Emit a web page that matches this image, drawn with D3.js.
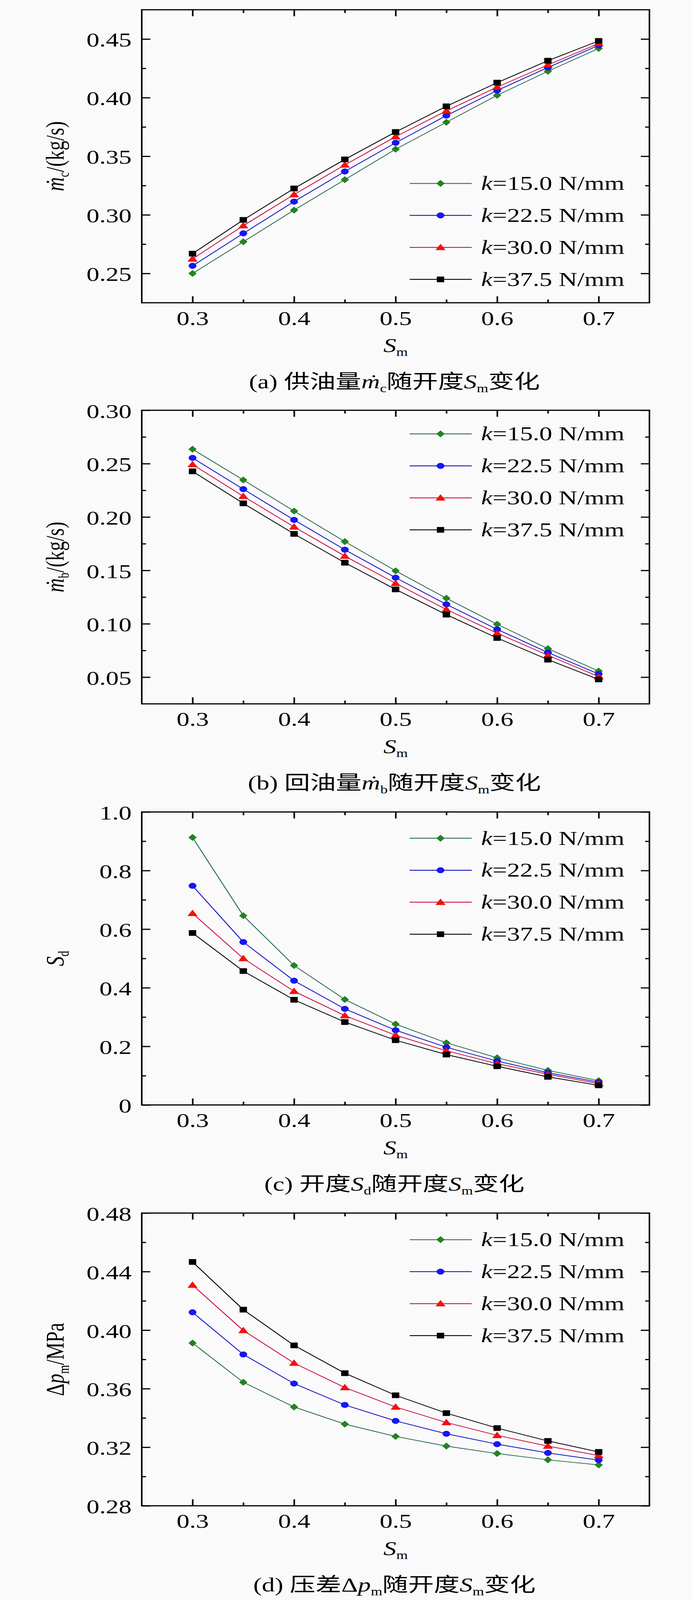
<!DOCTYPE html>
<html><head><meta charset="utf-8">
<script src="https://cdn.jsdelivr.net/npm/d3@7"></script>
<style>html,body{margin:0;padding:0;background:#fafafa;overflow:hidden} svg{display:block}</style>
</head><body><svg id="chart"></svg>
<script>
// ---------------- DATA ----------------
const Sm = [0.30, 0.35, 0.40, 0.45, 0.50, 0.55, 0.60, 0.65, 0.70];
const kValues = ["15.0", "22.5", "30.0", "37.5"];

// (a) supply flow  m_c (kg/s)
const mc_k150 = [0.250, 0.277, 0.304, 0.330, 0.356, 0.379, 0.402, 0.4225, 0.442];
const mc_k225 = [0.2565, 0.2842, 0.3113, 0.337, 0.3615, 0.3847, 0.4061, 0.4257, 0.4446];
const mc_k300 = [0.2624, 0.2908, 0.3173, 0.3426, 0.3667, 0.3887, 0.409, 0.4279, 0.4462];
const mc_k375 = [0.2669, 0.2957, 0.3225, 0.3473, 0.3707, 0.3926, 0.4128, 0.4315, 0.4484];
// (b) return flow m_b (kg/s)
const mb_k150 = [0.2635, 0.2347, 0.2056, 0.177, 0.1496, 0.1239, 0.0996, 0.0767, 0.0557];
const mb_k225 = [0.2554, 0.2261, 0.1973, 0.1694, 0.1432, 0.1182, 0.0948, 0.0731, 0.0529];
const mb_k300 = [0.2492, 0.2194, 0.1908, 0.1634, 0.1379, 0.1134, 0.0912, 0.0705, 0.0505];
const mb_k375 = [0.2428, 0.2128, 0.1842, 0.1572, 0.1322, 0.1086, 0.0867, 0.0664, 0.0479];
// (c) opening S_d
const sd_k150 = [0.913, 0.646, 0.476, 0.360, 0.276, 0.212, 0.161, 0.118, 0.083];
const sd_k225 = [0.748, 0.556, 0.424, 0.328, 0.255, 0.197, 0.150, 0.110, 0.078];
const sd_k300 = [0.654, 0.500, 0.388, 0.305, 0.238, 0.185, 0.141, 0.105, 0.073];
const sd_k375 = [0.587, 0.457, 0.359, 0.283, 0.221, 0.172, 0.132, 0.096, 0.067];
// (d) pressure difference dp_m (MPa)
const dp_k150 = [0.3912, 0.3644, 0.3475, 0.3358, 0.3274, 0.3208, 0.3157, 0.3114, 0.3079];
const dp_k225 = [0.4122, 0.3834, 0.3635, 0.3489, 0.3380, 0.3292, 0.3221, 0.3161, 0.3112];
const dp_k300 = [0.4308, 0.3998, 0.3775, 0.3608, 0.3475, 0.3369, 0.3281, 0.3208, 0.3143];
const dp_k375 = [0.4466, 0.4140, 0.3896, 0.3706, 0.3555, 0.3433, 0.3331, 0.3243, 0.3168];

// ticks
const xDomain = [0.25, 0.75];
const xMajor = [0.3, 0.4, 0.5, 0.6, 0.7];
const xMajorLabels = ["0.3", "0.4", "0.5", "0.6", "0.7"];
const xMinor = [0.35, 0.45, 0.55, 0.65];

const yDomainA = [0.225, 0.475];
const yMajorA = [0.25, 0.30, 0.35, 0.40, 0.45];
const yLabelsA = ["0.25", "0.30", "0.35", "0.40", "0.45"];
const yMinorA = [0.275, 0.325, 0.375, 0.425];

const yDomainB = [0.025, 0.30];
const yMajorB = [0.05, 0.10, 0.15, 0.20, 0.25, 0.30];
const yLabelsB = ["0.05", "0.10", "0.15", "0.20", "0.25", "0.30"];
const yMinorB = [0.075, 0.125, 0.175, 0.225, 0.275];

const yDomainC = [0, 1.0];
const yMajorC = [0, 0.2, 0.4, 0.6, 0.8, 1.0];
const yLabelsC = ["0", "0.2", "0.4", "0.6", "0.8", "1.0"];
const yMinorC = [0.1, 0.3, 0.5, 0.7, 0.9];

const yDomainD = [0.28, 0.48];
const yMajorD = [0.28, 0.32, 0.36, 0.40, 0.44, 0.48];
const yLabelsD = ["0.28", "0.32", "0.36", "0.40", "0.44", "0.48"];
const yMinorD = [0.30, 0.34, 0.38, 0.42, 0.46];

// ---------------- STYLE / LAYOUT ----------------
const W = 1772, H = 5417;
const SERIF = "'Liberation Serif','Times New Roman',serif";
const CAPFONT = "'Liberation Serif','Noto Sans CJK SC',serif";
const FS = 66, SUBFS = 38, SUBDY = 13;

const seriesStyle = [
  {line: "#2f6e56", fill: "#1f861f", stroke: "#186018", shape: "diamond"},
  {line: "#1414c4", fill: "#1515ff", stroke: "#0c0cb0", shape: "circle"},
  {line: "#cc1040", fill: "#ff0c0c", stroke: "#cc0000", shape: "triangle"},
  {line: "#000000", fill: "#000000", stroke: "#000000", shape: "square"}
];

const plotLeft = 363, plotRight = 1663;

const panels = [
  {top: 33, bottom: 1025, domain: yDomainA, major: yMajorA, labels: yLabelsA, minor: yMinorA,
   series: [mc_k150, mc_k225, mc_k300, mc_k375], legendTop: 588,
   ytitle: [{t: "m", i: true, dot: true}, {t: "c", sub: true}, {t: "/(kg/s)"}],
   caption: [{t: "(a) 供油量"}, {t: "m", i: true, dot: true}, {t: "c", sub: true}, {t: "随开度"}, {t: "S", i: true}, {t: "m", sub: true}, {t: "变化"}]},
  {top: 1389, bottom: 2383, domain: yDomainB, major: yMajorB, labels: yLabelsB, minor: yMinorB,
   series: [mb_k150, mb_k225, mb_k300, mb_k375], legendTop: 80,
   ytitle: [{t: "m", i: true, dot: true}, {t: "b", sub: true}, {t: "/(kg/s)"}],
   caption: [{t: "(b) 回油量"}, {t: "m", i: true, dot: true}, {t: "b", sub: true}, {t: "随开度"}, {t: "S", i: true}, {t: "m", sub: true}, {t: "变化"}]},
  {top: 2749, bottom: 3741, domain: yDomainC, major: yMajorC, labels: yLabelsC, minor: yMinorC,
   series: [sd_k150, sd_k225, sd_k300, sd_k375], legendTop: 89,
   ytitle: [{t: "S", i: true}, {t: "d", sub: true}],
   caption: [{t: "(c) 开度"}, {t: "S", i: true}, {t: "d", sub: true}, {t: "随开度"}, {t: "S", i: true}, {t: "m", sub: true}, {t: "变化"}]},
  {top: 4107, bottom: 5098, domain: yDomainD, major: yMajorD, labels: yLabelsD, minor: yMinorD,
   series: [dp_k150, dp_k225, dp_k300, dp_k375], legendTop: 90,
   ytitle: [{t: "Δ"}, {t: "p", i: true}, {t: "m", sub: true}, {t: "/MPa"}],
   caption: [{t: "(d) 压差Δ"}, {t: "p", i: true}, {t: "m", sub: true}, {t: "随开度"}, {t: "S", i: true}, {t: "m", sub: true}, {t: "变化"}]}
];

const svg = d3.select("#chart").attr("width", W).attr("height", H)
  .attr("viewBox", `0 0 ${W} ${H}`);
// if the visible window is shorter than the chart, fit the whole chart into it
const vh = window.innerHeight, vw = window.innerWidth;
if (vh && vw && vh < H - 2) {
  svg.attr("width", vw).attr("height", vh).attr("preserveAspectRatio", "none");
}
svg.append("rect").attr("width", W).attr("height", H).attr("fill", "#fafafa");

// rich text helper (italic, subscript, dot accent kept inside the same tspan)
function rich(textSel, parts, fs) {
  const subFs = fs * SUBFS / FS, subDy = fs * SUBDY / FS;
  let inSub = false, pendingDx = 0;
  parts.forEach(p => {
    const ts = textSel.append("tspan")
      .attr("font-style", p.i ? "italic" : "normal")
      .attr("font-size", p.sub ? subFs : fs);
    if (p.sub && !inSub) { ts.attr("dy", subDy); inSub = true; }
    else if (!p.sub && inSub) { ts.attr("dy", -subDy); inSub = false; }
    if (p.dot) {
      // "m" followed by a dot accent shifted back over it
      ts.text(p.t + "˙").attr("dx", `${pendingDx} ${(-0.47 * fs).toFixed(1)}`);
      pendingDx = 0.137 * fs;
    } else {
      ts.text(p.t);
      if (pendingDx) ts.attr("dx", pendingDx);
      pendingDx = 0;
    }
  });
}

function markerPath(shape) {
  switch (shape) {
    case "diamond": return "M0,-11L10,0L0,11L-10,0Z";
    case "circle": return d3.symbol(d3.symbolCircle, Math.PI * 9.5 * 9.5)();
    case "triangle": return "M0,-11.5L12,8.5L-12,8.5Z";
    default: return "M-9,-9H9V9H-9Z";
  }
}

const x = d3.scaleLinear().domain(xDomain).range([plotLeft, plotRight]);

panels.forEach(P => {
  const y = d3.scaleLinear().domain(P.domain).range([P.bottom, P.top]);
  const g = svg.append("g");

  const tickStyle = sel => {
    sel.select(".domain").remove();
    sel.selectAll(".tick line").attr("stroke", "#000").attr("stroke-width", 4);
    sel.selectAll("text").attr("font-family", SERIF).attr("font-size", FS).attr("fill", "#000");
  };
  // minor ticks (inward)
  g.append("g").attr("transform", `translate(${plotLeft},0)`)
    .call(d3.axisLeft(y).tickValues(P.minor).tickSize(-11).tickFormat("")).call(tickStyle);
  g.append("g").attr("transform", `translate(${plotRight},0)`)
    .call(d3.axisRight(y).tickValues(P.minor).tickSize(-11).tickFormat("")).call(tickStyle);
  g.append("g").attr("transform", `translate(0,${P.bottom})`)
    .call(d3.axisBottom(x).tickValues(xMinor).tickSize(-11).tickFormat("")).call(tickStyle);
  g.append("g").attr("transform", `translate(0,${P.top})`)
    .call(d3.axisTop(x).tickValues(xMinor).tickSize(-11).tickFormat("")).call(tickStyle);

  // major ticks (inward) with labels outside
  const yl = g.append("g").attr("transform", `translate(${plotLeft},0)`)
    .call(d3.axisLeft(y).tickValues(P.major).tickSize(-22).tickPadding(26)
      .tickFormat((d, i) => P.labels[i])).call(tickStyle);
  yl.selectAll("text").attr("dy", "0.38em");
  g.append("g").attr("transform", `translate(${plotRight},0)`)
    .call(d3.axisRight(y).tickValues(P.major).tickSize(-22).tickFormat("")).call(tickStyle);
  g.append("g").attr("transform", `translate(0,${P.bottom})`)
    .call(d3.axisBottom(x).tickValues(xMajor).tickSize(-22).tickPadding(28)
      .tickFormat((d, i) => xMajorLabels[i])).call(tickStyle);
  g.append("g").attr("transform", `translate(0,${P.top})`)
    .call(d3.axisTop(x).tickValues(xMajor).tickSize(-22).tickFormat("")).call(tickStyle);

  // frame
  g.append("rect").attr("x", plotLeft).attr("y", P.top)
    .attr("width", plotRight - plotLeft).attr("height", P.bottom - P.top)
    .attr("fill", "none").attr("stroke", "#000").attr("stroke-width", 4);

  // series lines then markers
  const line = d3.line().x((d, i) => x(Sm[i])).y(d => y(d));
  P.series.forEach((vals, si) => {
    const st = seriesStyle[si];
    g.append("path").datum(vals).attr("d", line)
      .attr("fill", "none").attr("stroke", st.line).attr("stroke-width", 2.6);
  });
  P.series.forEach((vals, si) => {
    const st = seriesStyle[si];
    g.append("g").selectAll("path").data(vals).join("path")
      .attr("d", markerPath(st.shape))
      .attr("transform", (d, i) => `translate(${x(Sm[i])},${y(d)})`)
      .attr("fill", st.fill).attr("stroke", st.stroke).attr("stroke-width", 1);
  });

  // legend
  const lg = g.append("g").attr("transform", `translate(0,${P.top + P.legendTop})`);
  kValues.forEach((k, si) => {
    const st = seriesStyle[si];
    const ry = si * 108.3;
    lg.append("line").attr("x1", 1049).attr("x2", 1208).attr("y1", ry).attr("y2", ry)
      .attr("stroke", st.line).attr("stroke-width", 3);
    lg.append("path").attr("d", markerPath(st.shape))
      .attr("transform", `translate(1128,${ry})`)
      .attr("fill", st.fill).attr("stroke", st.stroke).attr("stroke-width", 1);
    const t = lg.append("text").attr("x", 1232).attr("y", ry + 22)
      .attr("font-family", SERIF).attr("font-size", FS).attr("fill", "#000");
    rich(t, [{t: "k", i: true}, {t: "=" + k + " N/mm"}], FS);
  });

  // x title
  const xt = g.append("text").attr("x", (plotLeft + plotRight) / 2).attr("y", P.bottom + 167)
    .attr("text-anchor", "middle").attr("font-family", SERIF).attr("font-size", FS).attr("fill", "#000");
  rich(xt, [{t: "S", i: true}, {t: "m", sub: true}], FS);

  // y title
  const yt = g.append("text")
    .attr("transform", `translate(163,${(P.top + P.bottom) / 2}) rotate(-90)`)
    .attr("text-anchor", "middle").attr("font-family", SERIF).attr("font-size", FS).attr("fill", "#000");
  rich(yt, P.ytitle, FS);

  // caption
  const ct = g.append("text").attr("x", 1010).attr("y", P.bottom + 290)
    .attr("text-anchor", "middle").attr("font-family", CAPFONT).attr("font-size", FS).attr("fill", "#000");
  rich(ct, P.caption, FS);
});
</script>
</body></html>
